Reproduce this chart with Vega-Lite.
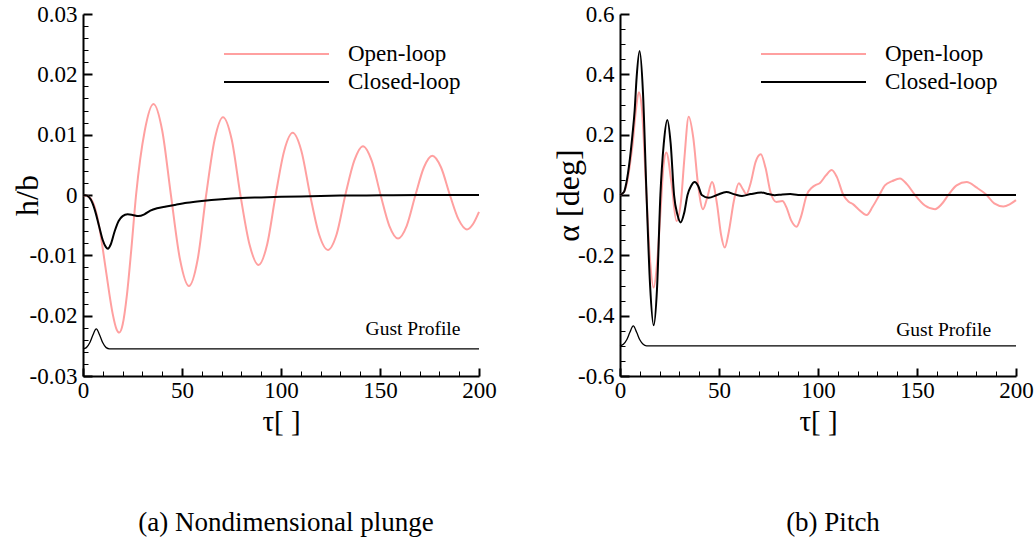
{
  "$schema": "https://vega.github.io/schema/vega-lite/v6.json",
  "background": "white",
  "padding": {"left": 11, "top": 3, "right": 5, "bottom": 5},
  "bounds": "flush",
  "spacing": 141,
  "datasets": {
    "plunge": [
      {"tau": 0, "value": 0, "series": "Open-loop"},
      {"tau": 3, "value": -0.0003, "series": "Open-loop"},
      {"tau": 5, "value": -0.0012, "series": "Open-loop"},
      {"tau": 7, "value": -0.0033, "series": "Open-loop"},
      {"tau": 9, "value": -0.0068, "series": "Open-loop"},
      {"tau": 11, "value": -0.0112, "series": "Open-loop"},
      {"tau": 13, "value": -0.0157, "series": "Open-loop"},
      {"tau": 15, "value": -0.0197, "series": "Open-loop"},
      {"tau": 17, "value": -0.0223, "series": "Open-loop"},
      {"tau": 18.3, "value": -0.0228, "series": "Open-loop"},
      {"tau": 20, "value": -0.0215, "series": "Open-loop"},
      {"tau": 22.2, "value": -0.0165, "series": "Open-loop"},
      {"tau": 24.4, "value": -0.009, "series": "Open-loop"},
      {"tau": 26.8, "value": 0, "series": "Open-loop"},
      {"tau": 31.2, "value": 0.0107, "series": "Open-loop"},
      {"tau": 35.6, "value": 0.0151, "series": "Open-loop"},
      {"tau": 40, "value": 0.0107, "series": "Open-loop"},
      {"tau": 44.4, "value": 0, "series": "Open-loop"},
      {"tau": 49, "value": -0.0107, "series": "Open-loop"},
      {"tau": 53.5, "value": -0.0151, "series": "Open-loop"},
      {"tau": 57.9, "value": -0.0107, "series": "Open-loop"},
      {"tau": 62.2, "value": 0, "series": "Open-loop"},
      {"tau": 66.5, "value": 0.0092, "series": "Open-loop"},
      {"tau": 70.7, "value": 0.0129, "series": "Open-loop"},
      {"tau": 75.1, "value": 0.0092, "series": "Open-loop"},
      {"tau": 79.5, "value": 0, "series": "Open-loop"},
      {"tau": 84.1, "value": -0.0082, "series": "Open-loop"},
      {"tau": 88.7, "value": -0.0116, "series": "Open-loop"},
      {"tau": 93, "value": -0.0082, "series": "Open-loop"},
      {"tau": 97.3, "value": 0, "series": "Open-loop"},
      {"tau": 101.6, "value": 0.0073, "series": "Open-loop"},
      {"tau": 105.9, "value": 0.0103, "series": "Open-loop"},
      {"tau": 110.3, "value": 0.0073, "series": "Open-loop"},
      {"tau": 114.7, "value": 0, "series": "Open-loop"},
      {"tau": 119.2, "value": -0.0065, "series": "Open-loop"},
      {"tau": 123.7, "value": -0.0091, "series": "Open-loop"},
      {"tau": 128.1, "value": -0.0065, "series": "Open-loop"},
      {"tau": 132.5, "value": 0, "series": "Open-loop"},
      {"tau": 137, "value": 0.0057, "series": "Open-loop"},
      {"tau": 141.4, "value": 0.0081, "series": "Open-loop"},
      {"tau": 145.8, "value": 0.0057, "series": "Open-loop"},
      {"tau": 150.3, "value": 0, "series": "Open-loop"},
      {"tau": 154.7, "value": -0.0051, "series": "Open-loop"},
      {"tau": 159.1, "value": -0.0072, "series": "Open-loop"},
      {"tau": 163.5, "value": -0.0051, "series": "Open-loop"},
      {"tau": 167.9, "value": 0, "series": "Open-loop"},
      {"tau": 172.2, "value": 0.0046, "series": "Open-loop"},
      {"tau": 176.4, "value": 0.0065, "series": "Open-loop"},
      {"tau": 180.8, "value": 0.0046, "series": "Open-loop"},
      {"tau": 185.3, "value": 0, "series": "Open-loop"},
      {"tau": 189.6, "value": -0.004, "series": "Open-loop"},
      {"tau": 193.9, "value": -0.0057, "series": "Open-loop"},
      {"tau": 197, "value": -0.0048, "series": "Open-loop"},
      {"tau": 200, "value": -0.0028, "series": "Open-loop"},
      {"tau": 0, "value": 0, "series": "Closed-loop"},
      {"tau": 2, "value": -0.0001, "series": "Closed-loop"},
      {"tau": 4, "value": -0.0008, "series": "Closed-loop"},
      {"tau": 6, "value": -0.0025, "series": "Closed-loop"},
      {"tau": 8, "value": -0.005, "series": "Closed-loop"},
      {"tau": 10, "value": -0.0075, "series": "Closed-loop"},
      {"tau": 11.5, "value": -0.0086, "series": "Closed-loop"},
      {"tau": 12.6, "value": -0.0089, "series": "Closed-loop"},
      {"tau": 14, "value": -0.0082, "series": "Closed-loop"},
      {"tau": 16, "value": -0.006, "series": "Closed-loop"},
      {"tau": 18, "value": -0.0043, "series": "Closed-loop"},
      {"tau": 20, "value": -0.0035, "series": "Closed-loop"},
      {"tau": 22.5, "value": -0.0032, "series": "Closed-loop"},
      {"tau": 25, "value": -0.0033, "series": "Closed-loop"},
      {"tau": 28, "value": -0.0035, "series": "Closed-loop"},
      {"tau": 31, "value": -0.0032, "series": "Closed-loop"},
      {"tau": 34, "value": -0.0026, "series": "Closed-loop"},
      {"tau": 37.4, "value": -0.0022, "series": "Closed-loop"},
      {"tau": 42, "value": -0.0019, "series": "Closed-loop"},
      {"tau": 47, "value": -0.0016, "series": "Closed-loop"},
      {"tau": 52.5, "value": -0.0013, "series": "Closed-loop"},
      {"tau": 60, "value": -0.001, "series": "Closed-loop"},
      {"tau": 70, "value": -0.0007, "series": "Closed-loop"},
      {"tau": 80, "value": -0.0005, "series": "Closed-loop"},
      {"tau": 90, "value": -0.0004, "series": "Closed-loop"},
      {"tau": 100, "value": -0.0003, "series": "Closed-loop"},
      {"tau": 115, "value": -0.0002, "series": "Closed-loop"},
      {"tau": 130, "value": -0.0001, "series": "Closed-loop"},
      {"tau": 150, "value": -0.00005, "series": "Closed-loop"},
      {"tau": 170, "value": 0, "series": "Closed-loop"},
      {"tau": 200, "value": 0, "series": "Closed-loop"}
    ],
    "pitch": [
      {"tau": 0, "value": 0, "series": "Open-loop"},
      {"tau": 2, "value": 0.01, "series": "Open-loop"},
      {"tau": 3.5, "value": 0.04, "series": "Open-loop"},
      {"tau": 5, "value": 0.1, "series": "Open-loop"},
      {"tau": 6.4, "value": 0.17, "series": "Open-loop"},
      {"tau": 8, "value": 0.28, "series": "Open-loop"},
      {"tau": 9.5, "value": 0.341, "series": "Open-loop"},
      {"tau": 11, "value": 0.29, "series": "Open-loop"},
      {"tau": 13, "value": 0.05, "series": "Open-loop"},
      {"tau": 15, "value": -0.2, "series": "Open-loop"},
      {"tau": 17, "value": -0.307, "series": "Open-loop"},
      {"tau": 18.8, "value": -0.22, "series": "Open-loop"},
      {"tau": 20.5, "value": -0.05, "series": "Open-loop"},
      {"tau": 22, "value": 0.1, "series": "Open-loop"},
      {"tau": 23.4, "value": 0.141, "series": "Open-loop"},
      {"tau": 26, "value": 0.04, "series": "Open-loop"},
      {"tau": 28.5, "value": -0.086, "series": "Open-loop"},
      {"tau": 30.8, "value": -0.02, "series": "Open-loop"},
      {"tau": 32.5, "value": 0.12, "series": "Open-loop"},
      {"tau": 34.7, "value": 0.259, "series": "Open-loop"},
      {"tau": 37, "value": 0.19, "series": "Open-loop"},
      {"tau": 39.5, "value": 0.03, "series": "Open-loop"},
      {"tau": 41.9, "value": -0.047, "series": "Open-loop"},
      {"tau": 44, "value": -0.01, "series": "Open-loop"},
      {"tau": 46.5, "value": 0.043, "series": "Open-loop"},
      {"tau": 49, "value": -0.03, "series": "Open-loop"},
      {"tau": 51, "value": -0.13, "series": "Open-loop"},
      {"tau": 52.9, "value": -0.174, "series": "Open-loop"},
      {"tau": 55, "value": -0.12, "series": "Open-loop"},
      {"tau": 57.5, "value": -0.02, "series": "Open-loop"},
      {"tau": 60, "value": 0.039, "series": "Open-loop"},
      {"tau": 62, "value": 0.02, "series": "Open-loop"},
      {"tau": 63.8, "value": 0.003, "series": "Open-loop"},
      {"tau": 66, "value": 0.04, "series": "Open-loop"},
      {"tau": 68.5, "value": 0.11, "series": "Open-loop"},
      {"tau": 71.1, "value": 0.135, "series": "Open-loop"},
      {"tau": 73.5, "value": 0.09, "series": "Open-loop"},
      {"tau": 76, "value": 0.01, "series": "Open-loop"},
      {"tau": 79, "value": -0.023, "series": "Open-loop"},
      {"tau": 82, "value": -0.02, "series": "Open-loop"},
      {"tau": 84, "value": -0.04, "series": "Open-loop"},
      {"tau": 86.5, "value": -0.085, "series": "Open-loop"},
      {"tau": 89.2, "value": -0.105, "series": "Open-loop"},
      {"tau": 91.5, "value": -0.07, "series": "Open-loop"},
      {"tau": 94.3, "value": 0, "series": "Open-loop"},
      {"tau": 97, "value": 0.025, "series": "Open-loop"},
      {"tau": 98.5, "value": 0.032, "series": "Open-loop"},
      {"tau": 101, "value": 0.04, "series": "Open-loop"},
      {"tau": 104, "value": 0.065, "series": "Open-loop"},
      {"tau": 106.9, "value": 0.083, "series": "Open-loop"},
      {"tau": 109.5, "value": 0.06, "series": "Open-loop"},
      {"tau": 112.8, "value": 0, "series": "Open-loop"},
      {"tau": 115.5, "value": -0.022, "series": "Open-loop"},
      {"tau": 117.8, "value": -0.031, "series": "Open-loop"},
      {"tau": 120.4, "value": -0.047, "series": "Open-loop"},
      {"tau": 124.6, "value": -0.066, "series": "Open-loop"},
      {"tau": 127.5, "value": -0.04, "series": "Open-loop"},
      {"tau": 131, "value": 0, "series": "Open-loop"},
      {"tau": 133.8, "value": 0.032, "series": "Open-loop"},
      {"tau": 137.5, "value": 0.046, "series": "Open-loop"},
      {"tau": 141.4, "value": 0.055, "series": "Open-loop"},
      {"tau": 145, "value": 0.035, "series": "Open-loop"},
      {"tau": 149, "value": 0, "series": "Open-loop"},
      {"tau": 154, "value": -0.035, "series": "Open-loop"},
      {"tau": 159.1, "value": -0.047, "series": "Open-loop"},
      {"tau": 162.5, "value": -0.03, "series": "Open-loop"},
      {"tau": 165.8, "value": 0, "series": "Open-loop"},
      {"tau": 170, "value": 0.032, "series": "Open-loop"},
      {"tau": 175.1, "value": 0.043, "series": "Open-loop"},
      {"tau": 180, "value": 0.025, "series": "Open-loop"},
      {"tau": 185.2, "value": 0, "series": "Open-loop"},
      {"tau": 189, "value": -0.028, "series": "Open-loop"},
      {"tau": 193.6, "value": -0.038, "series": "Open-loop"},
      {"tau": 197, "value": -0.03, "series": "Open-loop"},
      {"tau": 200, "value": -0.017, "series": "Open-loop"},
      {"tau": 0, "value": 0, "series": "Closed-loop"},
      {"tau": 2, "value": 0.01, "series": "Closed-loop"},
      {"tau": 3.2, "value": 0.04, "series": "Closed-loop"},
      {"tau": 5, "value": 0.12, "series": "Closed-loop"},
      {"tau": 6.3, "value": 0.2, "series": "Closed-loop"},
      {"tau": 7.4, "value": 0.28, "series": "Closed-loop"},
      {"tau": 8.4, "value": 0.39, "series": "Closed-loop"},
      {"tau": 9.9, "value": 0.477, "series": "Closed-loop"},
      {"tau": 11.6, "value": 0.34, "series": "Closed-loop"},
      {"tau": 13.4, "value": 0, "series": "Closed-loop"},
      {"tau": 15.2, "value": -0.3, "series": "Closed-loop"},
      {"tau": 17, "value": -0.432, "series": "Closed-loop"},
      {"tau": 18.7, "value": -0.31, "series": "Closed-loop"},
      {"tau": 20.4, "value": 0, "series": "Closed-loop"},
      {"tau": 22.1, "value": 0.17, "series": "Closed-loop"},
      {"tau": 23.9, "value": 0.249, "series": "Closed-loop"},
      {"tau": 25.6, "value": 0.17, "series": "Closed-loop"},
      {"tau": 27.3, "value": 0, "series": "Closed-loop"},
      {"tau": 29, "value": -0.065, "series": "Closed-loop"},
      {"tau": 30.6, "value": -0.091, "series": "Closed-loop"},
      {"tau": 32.4, "value": -0.06, "series": "Closed-loop"},
      {"tau": 34.1, "value": 0, "series": "Closed-loop"},
      {"tau": 35.9, "value": 0.03, "series": "Closed-loop"},
      {"tau": 37.7, "value": 0.043, "series": "Closed-loop"},
      {"tau": 39.5, "value": 0.03, "series": "Closed-loop"},
      {"tau": 41.3, "value": 0, "series": "Closed-loop"},
      {"tau": 44.8, "value": -0.009, "series": "Closed-loop"},
      {"tau": 49, "value": 0, "series": "Closed-loop"},
      {"tau": 53.7, "value": 0.01, "series": "Closed-loop"},
      {"tau": 58, "value": 0.002, "series": "Closed-loop"},
      {"tau": 61.6, "value": -0.003, "series": "Closed-loop"},
      {"tau": 66, "value": 0.003, "series": "Closed-loop"},
      {"tau": 71.4, "value": 0.008, "series": "Closed-loop"},
      {"tau": 75, "value": 0.003, "series": "Closed-loop"},
      {"tau": 78.1, "value": -0.001, "series": "Closed-loop"},
      {"tau": 82, "value": 0.002, "series": "Closed-loop"},
      {"tau": 86, "value": 0.003, "series": "Closed-loop"},
      {"tau": 90, "value": 0, "series": "Closed-loop"},
      {"tau": 200, "value": 0, "series": "Closed-loop"}
    ],
    "gustPlunge": [
      {"tau": 0, "value": -0.0255},
      {"tau": 1.7, "value": -0.0253},
      {"tau": 3.4, "value": -0.0245},
      {"tau": 5, "value": -0.0232},
      {"tau": 6.7, "value": -0.0222},
      {"tau": 8.4, "value": -0.0232},
      {"tau": 10, "value": -0.0245},
      {"tau": 11.7, "value": -0.0253},
      {"tau": 13.4, "value": -0.0255},
      {"tau": 200, "value": -0.0255}
    ],
    "gustPitch": [
      {"tau": 0, "value": -0.5},
      {"tau": 1.7, "value": -0.495},
      {"tau": 3.4, "value": -0.48},
      {"tau": 5, "value": -0.455},
      {"tau": 6.7, "value": -0.434},
      {"tau": 8.4, "value": -0.455},
      {"tau": 10, "value": -0.48},
      {"tau": 11.7, "value": -0.495},
      {"tau": 13.4, "value": -0.5},
      {"tau": 200, "value": -0.5}
    ]
  },
  "hconcat": [
    {
      "width": 396,
      "height": 362,
      "title": {"text": "(a) Nondimensional plunge", "orient": "bottom", "anchor": "middle", "frame": "group", "offset": 74, "fontSize": 27, "dx": 5},
      "layer": [
        {
          "data": {"name": "plunge"},
          "mark": {"type": "line", "interpolate": "monotone", "strokeWidth": 2},
          "encoding": {
            "x": {"field": "tau", "type": "quantitative", "scale": {"domain": [0, 200], "nice": false, "zero": false},
              "axis": {"orient": "bottom", "values": [0, 50, 100, 150, 200], "tickSize": -8, "tickWidth": 2, "domainWidth": 2, "labelFontSize": 23, "labelPadding": 11, "title": "τ[ ]", "titleFontSize": 29, "titleBaseline": "alphabetic", "titleY": 54}},
            "y": {"field": "value", "type": "quantitative", "scale": {"domain": [-0.03, 0.03], "nice": false, "zero": false},
              "axis": {"orient": "left", "values": [-0.03, -0.02, -0.01, 0, 0.01, 0.02, 0.03], "tickSize": -9, "tickWidth": 2, "domainWidth": 2, "labelFontSize": 23, "labelPadding": 15, "labelExpr": "replace(format(datum.value, '~g'), '\u2212', '-')", "title": "h/b", "titleFontSize": 32, "titleBaseline": "alphabetic", "titleX": -46}},
            "color": {"field": "series", "type": "nominal", "sort": ["Open-loop", "Closed-loop"],
              "scale": {"domain": ["Open-loop", "Closed-loop"], "range": ["#ffa0a0", "#000000"]},
              "legend": {"orient": "none", "legendX": 140, "legendY": 26, "title": null, "symbolType": "stroke", "symbolSize": 11025, "symbolStrokeWidth": 2, "clipHeight": 28, "labelFontSize": 23, "labelOffset": 18, "rowPadding": 0, "padding": 0, "symbolOffset": 0}}
          }
        },
        {
          "data": {"name": "gustPlunge"},
          "mark": {"type": "line", "interpolate": "monotone", "strokeWidth": 1.3, "color": "black"},
          "encoding": {
            "x": {"field": "tau", "type": "quantitative",
              "axis": {"orient": "bottom", "values": [10, 20, 30, 40, 60, 70, 80, 90, 110, 120, 130, 140, 160, 170, 180, 190], "tickSize": -5, "tickWidth": 1, "labels": false, "domain": false, "title": null}},
            "y": {"field": "value", "type": "quantitative",
              "axis": {"orient": "left", "values": [-0.028, -0.026, -0.024, -0.022, -0.018, -0.016, -0.014, -0.012, -0.008, -0.006, -0.004, -0.002, 0.002, 0.004, 0.006, 0.008, 0.012, 0.014, 0.016, 0.018, 0.022, 0.024, 0.026, 0.028], "tickSize": -5, "tickWidth": 1, "labels": false, "domain": false, "title": null}}
          }
        },
        {
          "data": {"values": [{"label": "Gust Profile"}]},
          "mark": {"type": "text", "align": "right", "baseline": "alphabetic", "fontSize": 19.5, "color": "black", "font": "Times New Roman, Liberation Serif, serif"},
          "encoding": {
            "x": {"datum": 190.6, "type": "quantitative", "axis": null},
            "y": {"datum": -0.0232, "type": "quantitative", "axis": null},
            "text": {"field": "label"}
          }
        }
      ],
      "resolve": {"axis": {"x": "independent", "y": "independent"}}
    },
    {
      "width": 396,
      "height": 362,
      "title": {"text": "(b) Pitch", "orient": "bottom", "anchor": "middle", "frame": "group", "offset": 74, "fontSize": 27, "dx": 15},
      "layer": [
        {
          "data": {"name": "pitch"},
          "mark": {"type": "line", "interpolate": "monotone", "strokeWidth": 2},
          "encoding": {
            "x": {"field": "tau", "type": "quantitative", "scale": {"domain": [0, 200], "nice": false, "zero": false},
              "axis": {"orient": "bottom", "values": [0, 50, 100, 150, 200], "tickSize": -8, "tickWidth": 2, "domainWidth": 2, "labelFontSize": 23, "labelPadding": 11, "title": "τ[ ]", "titleFontSize": 29, "titleBaseline": "alphabetic", "titleY": 54}},
            "y": {"field": "value", "type": "quantitative", "scale": {"domain": [-0.6, 0.6], "nice": false, "zero": false},
              "axis": {"orient": "left", "values": [-0.6, -0.4, -0.2, 0, 0.2, 0.4, 0.6], "tickSize": -9, "tickWidth": 2, "domainWidth": 2, "labelFontSize": 23, "labelPadding": 15, "labelExpr": "replace(format(datum.value, '~g'), '\u2212', '-')", "title": "α [deg]", "titleFontSize": 32, "titleBaseline": "alphabetic", "titleX": -42}},
            "color": {"field": "series", "type": "nominal", "sort": ["Open-loop", "Closed-loop"],
              "scale": {"domain": ["Open-loop", "Closed-loop"], "range": ["#ffa0a0", "#000000"]},
              "legend": {"orient": "none", "legendX": 140, "legendY": 26, "title": null, "symbolType": "stroke", "symbolSize": 11025, "symbolStrokeWidth": 2, "clipHeight": 28, "labelFontSize": 23, "labelOffset": 18, "rowPadding": 0, "padding": 0, "symbolOffset": 0}}
          }
        },
        {
          "data": {"name": "gustPitch"},
          "mark": {"type": "line", "interpolate": "monotone", "strokeWidth": 1.3, "color": "black"},
          "encoding": {
            "x": {"field": "tau", "type": "quantitative",
              "axis": {"orient": "bottom", "values": [10, 20, 30, 40, 60, 70, 80, 90, 110, 120, 130, 140, 160, 170, 180, 190], "tickSize": -5, "tickWidth": 1, "labels": false, "domain": false, "title": null}},
            "y": {"field": "value", "type": "quantitative",
              "axis": {"orient": "left", "values": [-0.55, -0.5, -0.45, -0.35, -0.3, -0.25, -0.15, -0.1, -0.05, 0.05, 0.1, 0.15, 0.25, 0.3, 0.35, 0.45, 0.5, 0.55], "tickSize": -5, "tickWidth": 1, "labels": false, "domain": false, "title": null}}
          }
        },
        {
          "data": {"values": [{"label": "Gust Profile"}]},
          "mark": {"type": "text", "align": "right", "baseline": "alphabetic", "fontSize": 19.5, "color": "black", "font": "Times New Roman, Liberation Serif, serif"},
          "encoding": {
            "x": {"datum": 187.4, "type": "quantitative", "axis": null},
            "y": {"datum": -0.469, "type": "quantitative", "axis": null},
            "text": {"field": "label"}
          }
        }
      ],
      "resolve": {"axis": {"x": "independent", "y": "independent"}}
    }
  ],
  "resolve": {"scale": {"x": "independent", "y": "independent", "color": "independent"}, "legend": {"color": "independent"}},
  "config": {
    "font": "Times New Roman, Liberation Serif, serif",
    "view": {"stroke": null},
    "axis": {"grid": false, "domainColor": "black", "tickColor": "black", "labelColor": "black", "titleColor": "black", "labelFont": "Times New Roman, Liberation Serif, serif", "titleFont": "Times New Roman, Liberation Serif, serif", "titleFontWeight": "normal", "labelFlush": false, "labelOverlap": false},
    "legend": {"labelFont": "Times New Roman, Liberation Serif, serif", "labelColor": "black"},
    "title": {"font": "Times New Roman, Liberation Serif, serif", "fontWeight": "normal", "color": "black"},
    "text": {"font": "Times New Roman, Liberation Serif, serif"}
  }
}
